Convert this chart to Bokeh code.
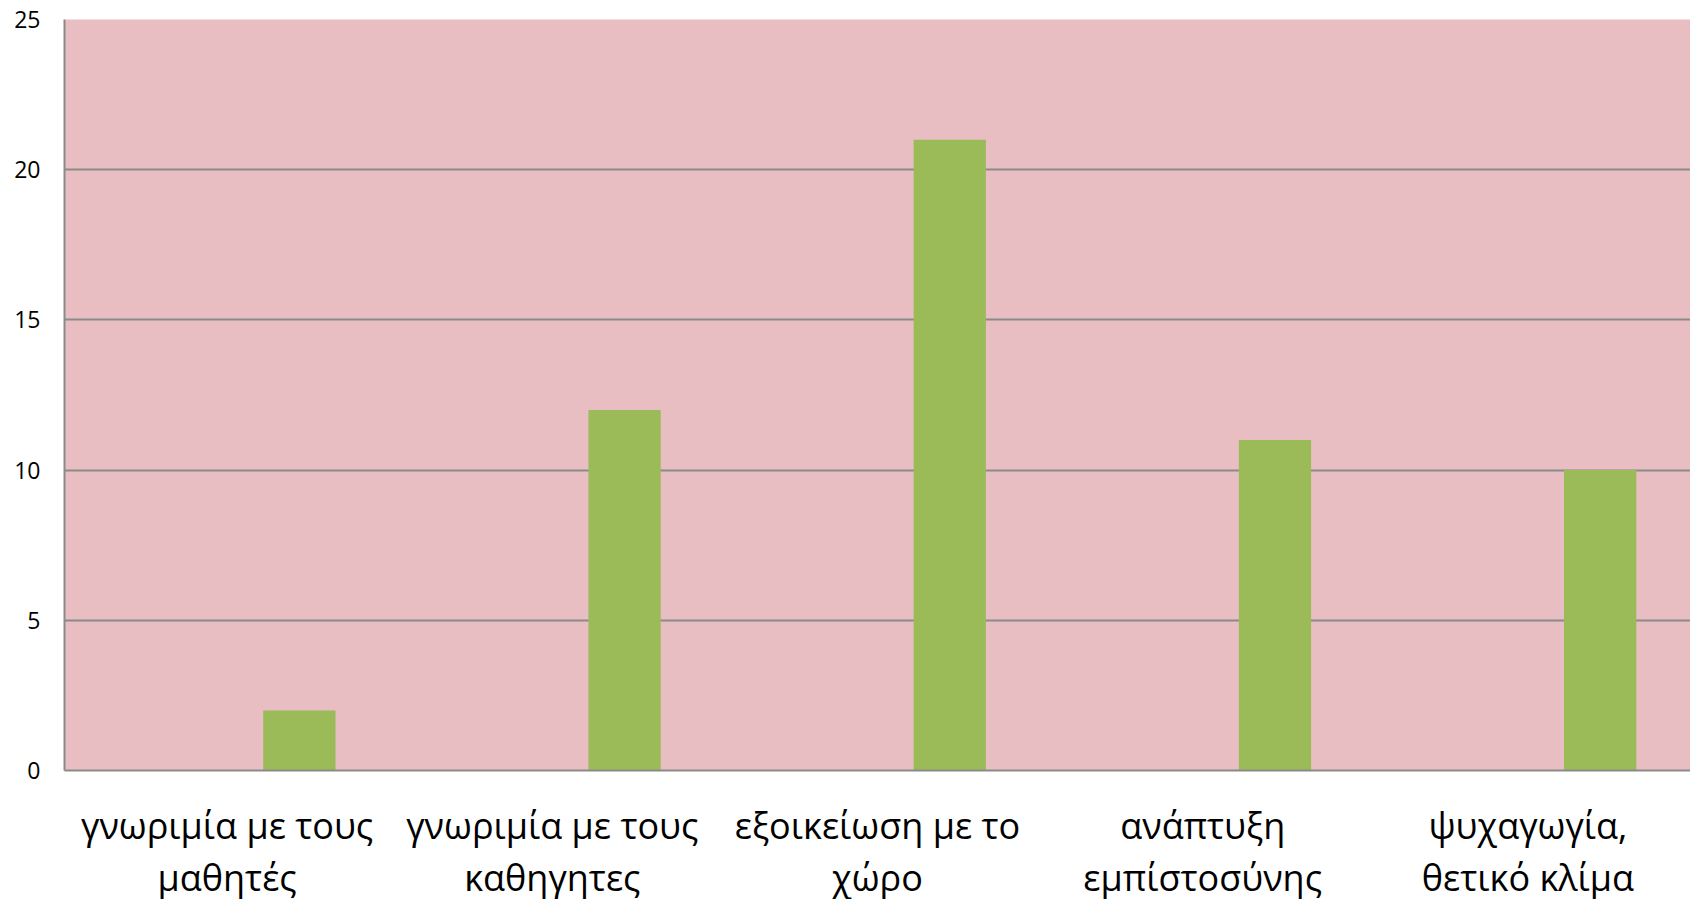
from bokeh.plotting import figure
from bokeh.models import (FactorRange, Range1d, ColumnDataSource, FixedTicker,
                          CategoricalAxis)
from bokeh.transform import dodge
from bokeh.embed import file_html
from bokeh.resources import INLINE

# category labels (two lines each, as in the reference)
labels_line1 = ["γνωριμία με τους", "γνωριμία με τους", "εξοικείωση με το",
                "ανάπτυξη", "ψυχαγωγία,"]
labels_line2 = ["μαθητές", "καθηγητες", "χώρο", "εμπίστοσύνης", "θετικό κλίμα"]
values = [2, 12, 21, 11, 10]
y_ticks = [0, 5, 10, 15, 20, 25]

# factors must be unique: pad repeated first lines with zero-width spaces
line1_factors = [t + "\u200b" * i for i, t in enumerate(labels_line1)]

src = ColumnDataSource(dict(cat=labels_line2, val=values))

p = figure(x_range=FactorRange(*labels_line2, range_padding=0), y_range=Range1d(0, 25),
           frame_width=1626, frame_height=751, output_backend="svg", toolbar_location=None,
           x_axis_location=None,
           min_border_left=64, min_border_top=19, min_border_right=0, min_border_bottom=0,
           background_fill_color="#E9BEC2", border_fill_color="white", outline_line_color=None)
p.extra_x_ranges = {"l1": FactorRange(*line1_factors, range_padding=0)}

bw = 1 / 4.5
p.vbar(x=dodge("cat", bw, range=p.x_range), top="val", width=bw, bottom=0,
       source=src, fill_color="#9BBB59", line_color=None)

ax1 = CategoricalAxis(x_range_name="l1")
ax2 = CategoricalAxis()
p.add_layout(ax1, "below")
p.add_layout(ax2, "below")

p.yaxis.ticker = FixedTicker(ticks=y_ticks)
p.ygrid.ticker = FixedTicker(ticks=y_ticks)
p.xgrid.grid_line_color = None
p.ygrid.grid_line_color = "#8A8A8A"
p.ygrid.grid_line_width = 2
p.ygrid.level = "underlay"

for ax in (ax1, ax2, p.yaxis[0]):
    ax.axis_line_color = "#8A8A8A"
    ax.axis_line_width = 2
    ax.major_tick_line_color = None
    ax.minor_tick_line_color = None
    ax.major_tick_out = 0
    ax.major_tick_in = 0
    ax.major_label_text_color = "black"
    ax.major_label_text_font = "Open Sans"
    ax.major_label_orientation = "horizontal"

ax2.axis_line_color = None
ax1.major_label_text_font_size = "36px"
ax2.major_label_text_font_size = "36px"
ax1.major_label_standoff = 30
ax2.major_label_standoff = 0

p.yaxis.major_label_text_font_size = "23px"
p.yaxis.major_label_standoff = 24

open("out.html", "w").write(file_html(p, INLINE))
